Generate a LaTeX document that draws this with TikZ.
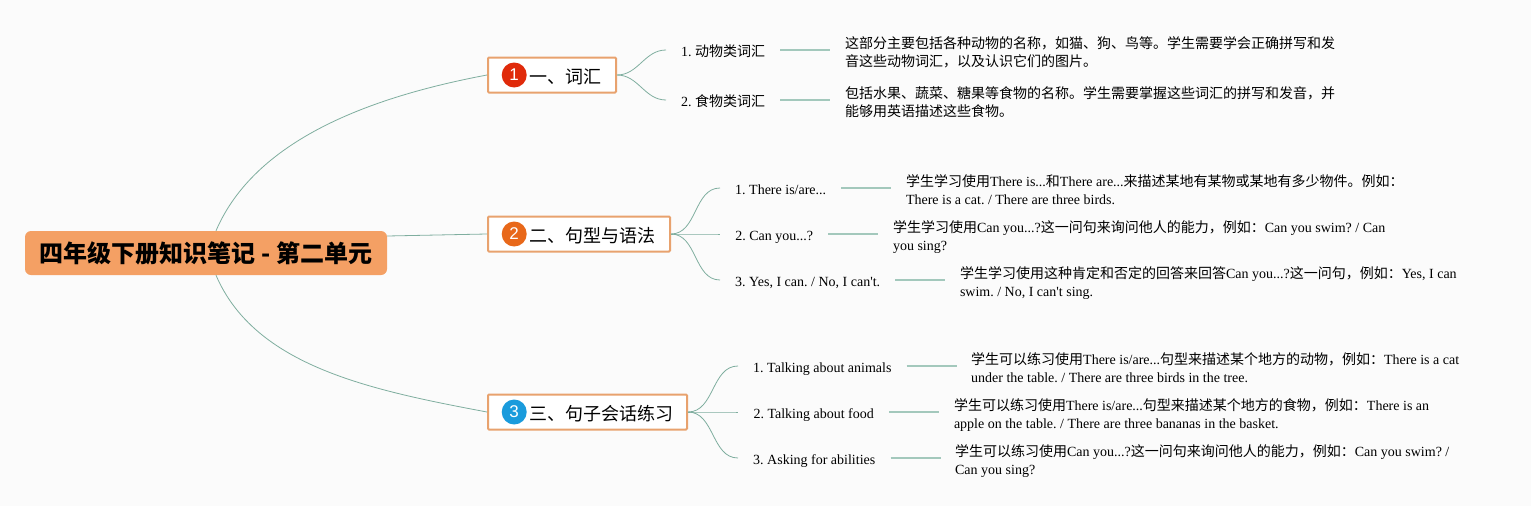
\documentclass[tikz,border=0pt]{standalone}
\usepackage{fontspec}
\setmainfont{Liberation Serif}
\setsansfont{Liberation Sans}
\newfontfamily\cjk{Noto Sans CJK SC}
\newcommand{\zh}[1]{{\cjk\fontsize{14pt}{18pt}\selectfont #1}}
\usetikzlibrary{positioning}
\definecolor{paper}{HTML}{FBFBFB}
\definecolor{rootfill}{HTML}{F4A064}
\definecolor{boxline}{HTML}{E8A26E}
\definecolor{linkline}{HTML}{7FAE9F}
\definecolor{stubline}{HTML}{A3C8BC}
\tikzstyle{root} = [rectangle, rounded corners=6pt, minimum width=362pt, minimum height=44pt, fill=rootfill, text=black, font=\cjk\bfseries\fontsize{24pt}{28pt}\selectfont]
\tikzstyle{topic} = [rectangle, rounded corners=1pt, minimum height=35pt, draw=boxline, line width=2pt, fill=white, anchor=west]
\tikzstyle{badge} = [circle, minimum size=25pt, inner sep=0pt, text=white, font=\sffamily\fontsize{17pt}{17pt}\selectfont]
\tikzstyle{topictext} = [inner sep=0pt, yshift=-1.5pt, font=\cjk\fontsize{18pt}{22pt}\selectfont]
\tikzstyle{leaf} = [inner xsep=15pt, inner ysep=0pt, anchor=west, text height=12pt, text depth=0pt, font=\frenchspacing\fontsize{14pt}{18pt}\selectfont]
\tikzstyle{detail} = [inner xsep=14.4pt, inner ysep=0pt, align=left, yshift=-1.5pt, text depth=0pt, font=\frenchspacing\fontsize{14pt}{18pt}\selectfont]
\tikzstyle{link} = [linkline, line width=0.8pt]
\tikzstyle{stub} = [stubline, line width=1.3pt]

\begin{document}
\begin{tikzpicture}[x=1pt, y=-1pt]
\fill [paper] (0,0) rectangle (1531,506);
\useasboundingbox (0,0) rectangle (1531,506);

\node (root) [root] at (206,253) {\raisebox{-2pt}{四年级下册知识笔记 - 第二单元}};

% first branch
\node (topic1) [topic, minimum width=128pt] at (487,75) {};
\node (badge1) [badge, fill={rgb,255:red,224;green,42;blue,10}, right=14.5pt of topic1.west] {1};
\node (title1) [topictext, right=2.5pt of badge1] {一、词汇};
\node (leaf11) [leaf, minimum width=114pt] at (666,50) {1. \zh{动物类词汇}};
\node (leaf12) [leaf, minimum width=114pt] at (666,100) {2. \zh{食物类词汇}};
\node (info11) [detail, right=50pt of leaf11] {\zh{这部分主要包括各种动物的名称，如猫、狗、鸟等。学生需要学会正确拼写和发}\\\zh{音这些动物词汇，以及认识它们的图片。}};
\node (info12) [detail, right=50pt of leaf12] {\zh{包括水果、蔬菜、糖果等食物的名称。学生需要掌握这些词汇的拼写和发音，并}\\\zh{能够用英语描述这些食物。}};

% second branch
\node (topic2) [topic, minimum width=182pt] at (487,234) {};
\node (badge2) [badge, fill={rgb,255:red,232;green,104;blue,26}, right=14.5pt of topic2.west] {2};
\node (title2) [topictext, right=2.5pt of badge2] {二、句型与语法};
\node (leaf21) [leaf, minimum width=121pt] at (720,188) {1. There is/are...};
\node (leaf22) [leaf, minimum width=108pt] at (720,234) {2. Can you...?};
\node (leaf23) [leaf, minimum width=175pt] at (720,280) {3. Yes, I can. / No, I can\textquotesingle t.};
\node (info21) [detail, right=50pt of leaf21] {\zh{学生学习使用}There is...\zh{和}There are...\zh{来描述某地有某物或某地有多少物件。例如：}\\There is a cat. / There are three birds.};
\node (info22) [detail, right=50pt of leaf22] {\zh{学生学习使用}Can you...?\zh{这一问句来询问他人的能力，例如：}Can you swim? / Can\\you sing?};
\node (info23) [detail, right=50pt of leaf23] {\zh{学生学习使用这种肯定和否定的回答来回答}Can you...?\zh{这一问句，例如：}Yes, I can\\swim. / No, I can\textquotesingle t sing.};

% third branch
\node (topic3) [topic, minimum width=199pt] at (487,412) {};
\node (badge3) [badge, fill={rgb,255:red,26;green,155;blue,220}, right=14.5pt of topic3.west] {3};
\node (title3) [topictext, right=2.5pt of badge3] {三、句子会话练习};
\node (leaf31) [leaf, minimum width=168pt] at (738,366) {1. Talking about animals};
\node (leaf32) [leaf, minimum width=151pt] at (738,412) {2. Talking about food};
\node (leaf33) [leaf, minimum width=152pt] at (738,458) {3. Asking for abilities};
\node (info31) [detail, right=50pt of leaf31] {\zh{学生可以练习使用}There is/are...\zh{句型来描述某个地方的动物，例如：}There is a cat\\under the table. / There are three birds in the tree.};
\node (info32) [detail, right=50pt of leaf32] {\zh{学生可以练习使用}There is/are...\zh{句型来描述某个地方的食物，例如：}There is an\\apple on the table. / There are three bananas in the basket.};
\node (info33) [detail, right=50pt of leaf33] {\zh{学生可以练习使用}Can you...?\zh{这一问句来询问他人的能力，例如：}Can you swim? /\\Can you sing?};

% connectors
\draw [link] ([xshift=10pt]root.north) .. controls +(39,-91) and +(-117,22) .. (topic1.west);
\draw [link] (root.east) ++(0,-17) -- (topic2.west);
\draw [link] ([xshift=10pt]root.south) .. controls +(39,91) and +(-117,-22) .. (topic3.west);

\foreach \leafname in {leaf11,leaf12}
  \draw [link] (topic1.east) to [out=0, in=180] (\leafname.west);
\foreach \leafname in {leaf21,leaf22,leaf23}
  \draw [link] (topic2.east) to [out=0, in=180] (\leafname.west);
\foreach \leafname in {leaf31,leaf32,leaf33}
  \draw [link] (topic3.east) to [out=0, in=180] (\leafname.west);

\draw [stub] (leaf11.east) -- (leaf11.east -| info11.west);
\draw [stub] (leaf12.east) -- (leaf12.east -| info12.west);
\draw [stub] (leaf21.east) -- (leaf21.east -| info21.west);
\draw [stub] (leaf22.east) -- (leaf22.east -| info22.west);
\draw [stub] (leaf23.east) -- (leaf23.east -| info23.west);
\draw [stub] (leaf31.east) -- (leaf31.east -| info31.west);
\draw [stub] (leaf32.east) -- (leaf32.east -| info32.west);
\draw [stub] (leaf33.east) -- (leaf33.east -| info33.west);

\end{tikzpicture}
\end{document}
